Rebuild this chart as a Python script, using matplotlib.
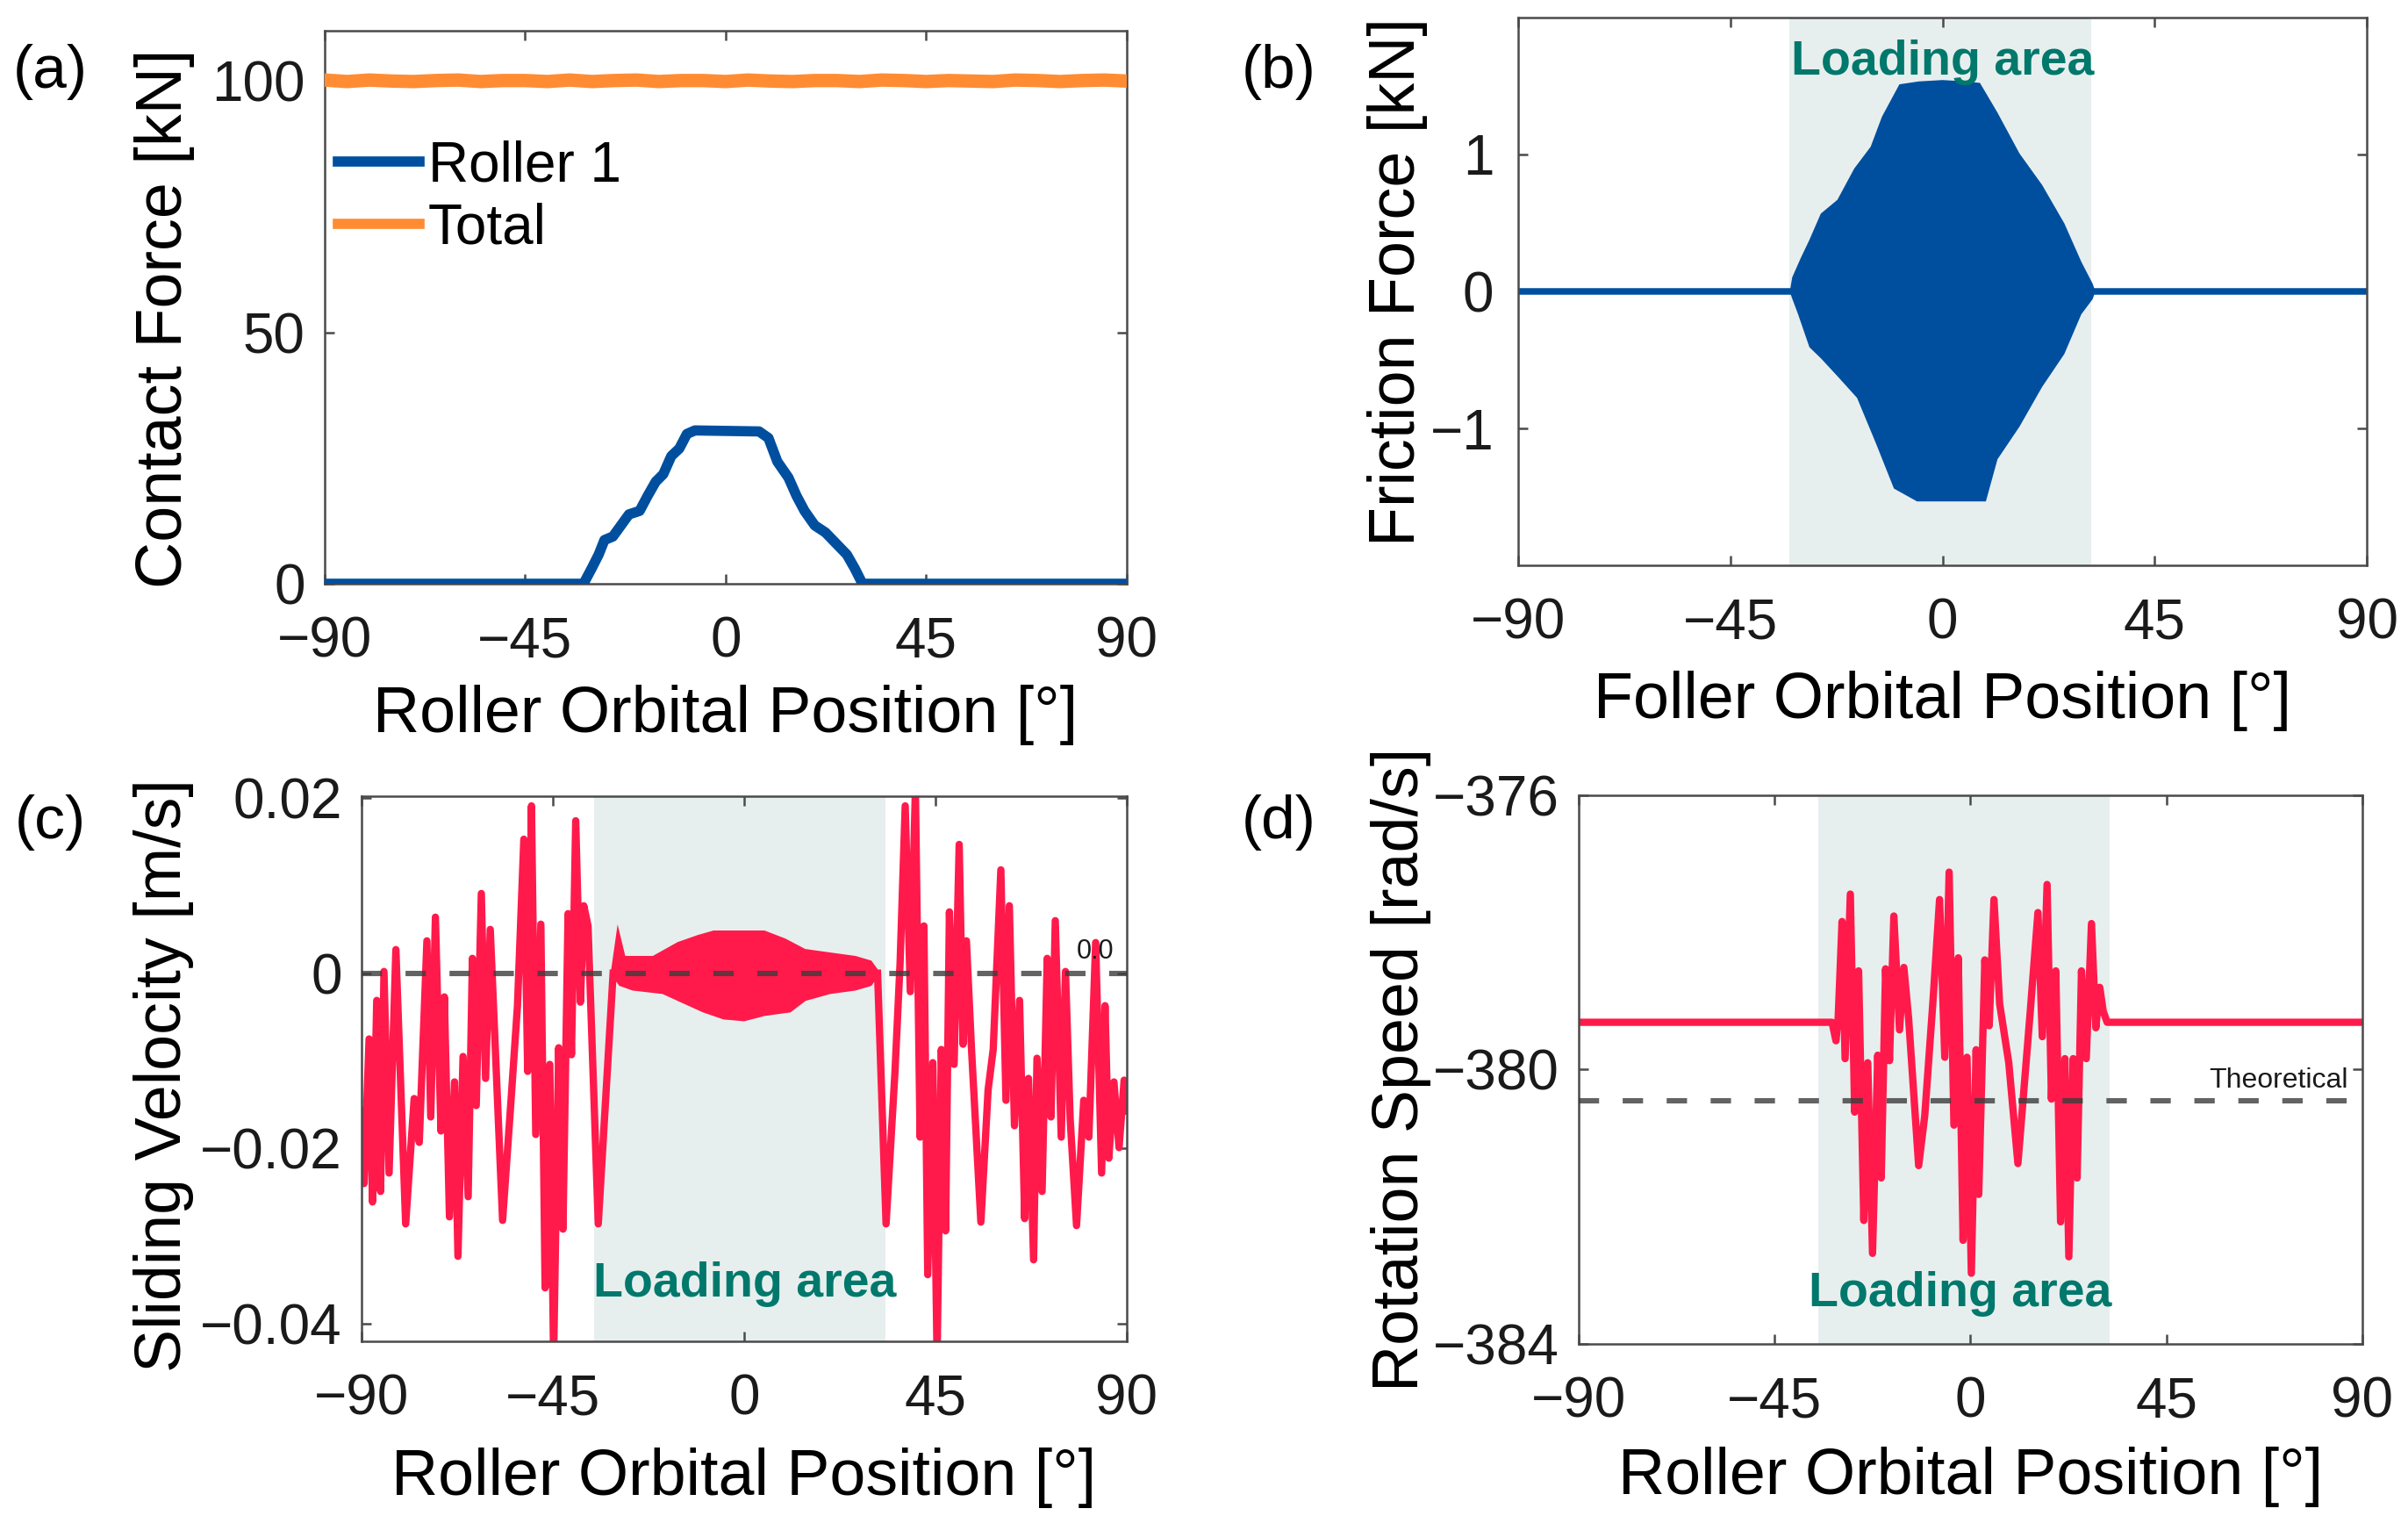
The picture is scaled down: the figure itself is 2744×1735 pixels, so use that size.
import numpy as np
import matplotlib
matplotlib.use("Agg")
import matplotlib.pyplot as plt

plt.rcParams['font.family'] = ['Liberation Sans', 'DejaVu Sans']

# ---- data ----
xticks = [-90, -45, 0, 45, 90]

# (a) contact force
total_x = np.arange(-90, 91, 5)
total_y = [100.2, 99.9, 100.2, 100.0, 99.9, 100.1, 100.2, 99.9, 100.1, 100.1,
           99.9, 100.2, 99.9, 100.1, 100.2, 99.9, 100.1, 100.1, 99.9, 100.2,
           100.0, 99.9, 100.1, 100.1, 99.9, 100.2, 100.1, 99.9, 100.1, 100.0,
           99.9, 100.2, 100.1, 99.9, 100.1, 100.2, 100.0]
roller_x = [-90, -31.9, -30.1, -28.5, -27.2, -25.3, -23.5, -21.7, -19.3, -17.5,
            -15.7, -14.0, -12.2, -10.4, -8.7, -6.9, 0.35, 7.5, 9.6, 11.6,
            14.1, 15.9, 17.7, 20.0, 22.4, 24.8, 27.2, 29.0, 30.7, 90]
roller_y = [0, 0, 3.0, 5.8, 8.7, 9.4, 11.6, 13.8, 14.5, 17.5,
            20.3, 21.8, 25.4, 26.9, 29.8, 30.5, 30.4, 30.3, 29.0, 24.3,
            21.1, 17.5, 14.5, 11.6, 10.2, 8.0, 5.8, 3.0, 0, 0]

# (b) friction force envelope of the dense oscillation
fr_up_x = [-32, -31.5, -29.7, -27.9, -25.5, -22, -18.4, -14.9, -12.5, -8.9,
           -5, 0, 5, 7.7, 11.3, 16, 20.8, 25.5, 29.1, 31.5, 32]
fr_up_y = [0, 0.1, 0.24, 0.37, 0.56, 0.66, 0.89, 1.05, 1.27, 1.5,
           1.52, 1.53, 1.52, 1.51, 1.3, 1.0, 0.77, 0.49, 0.21, 0.05, 0]
fr_lo_x = [-32, -31.5, -30.3, -27.9, -25.5, -22, -17.8, -13.7, -10, -5.3,
           0, 5, 8.9, 11.3, 16, 20.8, 25.5, 29.1, 31.5, 32]
fr_lo_y = [0, -0.05, -0.16, -0.4, -0.48, -0.61, -0.77, -1.11, -1.43, -1.52,
           -1.52, -1.52, -1.52, -1.22, -0.98, -0.69, -0.45, -0.16, -0.05, 0]

# (c) sliding velocity
sv_left_x = [-90, -89.4, -88.2, -87.4, -86.4, -85.5, -84.7, -83.5, -81.9, -79.6,
             -77.6, -76.4, -74.6, -73.7, -72.6, -71.3, -70.5, -69.3, -68.1, -67.3,
             -66.1, -64.9, -63.9, -63.0, -61.8, -60.8, -59.7, -56.8, -54.7, -53.3,
             -51.8, -50.9, -50.0, -49.0, -47.8, -46.8, -45.7, -44.8, -43.6, -42.6,
             -41.4, -40.6, -39.6, -38.5, -37.7, -36.7, -34.3, -30.8]
sv_left_y = [-0.0157, -0.0240, -0.0075, -0.0261, -0.0031, -0.0249, 0.0002, -0.0228, 0.0027, -0.0286,
             -0.0143, -0.0193, 0.0037, -0.0164, 0.0064, -0.0180, -0.0027, -0.0278, -0.0124, -0.0323,
             -0.0095, -0.0255, 0.0017, -0.0151, 0.0091, -0.0120, 0.0050, -0.0282, -0.0137, -0.0037,
             0.0153, -0.0112, 0.0191, -0.0184, 0.0056, -0.0359, -0.0104, -0.0440, -0.0085, -0.0292,
             0.0068, -0.0093, 0.0174, -0.0033, 0.0077, 0.0054, -0.0286, 0.0]
sv_right_x = [31.4, 33.4, 35.5, 36.7, 37.9, 39.1, 40.3, 41.4, 42.3, 43.2,
              44.4, 45.4, 46.4, 47.4, 48.3, 49.4, 50.6, 51.5, 52.3, 53.5,
              55.7, 57.4, 58.6, 60.4, 61.6, 62.4, 63.6, 64.8, 66.0, 66.9,
              68.1, 68.9, 70.1, 71.3, 72.2, 73.2, 74.6, 75.6, 76.7, 78.2,
              79.9, 81.1, 82.7, 84.1, 84.9, 85.8, 87.0, 88.2, 89.4, 90.0]
sv_right_y = [0.0, -0.0286, -0.0112, 0.0012, 0.0191, -0.0021, 0.0210, -0.0187, 0.0054, -0.0344,
              -0.0102, -0.0440, -0.0087, -0.0294, 0.0070, -0.0104, 0.0147, -0.0081, 0.0037, -0.0087,
              -0.0284, -0.0133, -0.0087, 0.0118, -0.0145, 0.0077, -0.0174, -0.0031, -0.0280, -0.0120,
              -0.0327, -0.0097, -0.0249, 0.0017, -0.0164, 0.0060, -0.0187, 0.0002, -0.0166, -0.0288,
              -0.0145, -0.0187, 0.0035, -0.0228, -0.0037, -0.0211, -0.0124, -0.0199, -0.0122, -0.0157]
sv_up_x = [-30.8, -29.6, -28.4, -21.3, -15.4, -10.7, -7.1, 0, 4.7, 9.5, 14.2, 20.1, 26.1, 29.6, 31.4]
sv_up_y = [0, 0.0041, 0.0017, 0.0017, 0.0033, 0.0041, 0.0046, 0.0046, 0.0046, 0.0037, 0.0025, 0.0021, 0.0017, 0.0012, 0]
sv_lo_x = [-30.8, -29.0, -26.1, -19.0, -15.4, -9.5, -4.7, 0, 4.7, 10.7, 14.2, 20.1, 26.1, 29.6, 31.4]
sv_lo_y = [0, -0.0012, -0.0017, -0.0021, -0.0029, -0.0042, -0.0050, -0.0052, -0.0046, -0.0042, -0.0029, -0.0021, -0.0017, -0.0012, 0]

# (d) rotation speed
rs_x = [-90, -31.8, -30.9, -30.4, -29.5, -28.8, -27.6, -26.6, -25.7, -24.5,
        -23.6, -22.5, -21.3, -20.5, -19.5, -18.6, -17.6, -16.3, -15.3, -14.2,
        -11.9, -10.5, -8.6, -7.1, -5.9, -4.9, -3.8, -2.8, -1.7, -0.8,
        0.2, 1.3, 1.9, 3.3, 4.3, 5.4, 6.7, 8.8, 10.9, 12.1,
        13.8, 15.5, 16.5, 17.6, 18.6, 19.6, 20.7, 21.7, 22.6, 23.6,
        24.5, 25.5, 26.6, 27.8, 28.8, 29.7, 30.5, 31.4, 90]
rs_y = [-379.31, -379.31, -379.58, -379.26, -377.84, -379.84, -377.44, -380.62, -378.56, -382.20,
        -379.90, -382.68, -379.79, -381.58, -378.53, -379.87, -377.76, -379.42, -378.51, -379.26,
        -381.40, -380.67, -378.99, -377.52, -379.82, -377.12, -380.81, -378.37, -382.49, -379.82,
        -382.97, -379.71, -381.82, -378.40, -379.36, -377.52, -379.04, -379.90, -381.37, -380.43,
        -379.10, -377.71, -379.52, -377.30, -380.43, -378.56, -382.22, -379.84, -382.73, -379.84,
        -381.58, -378.56, -379.84, -377.87, -379.39, -378.80, -379.15, -379.31, -379.31]
theoretical = -380.45

# ---- style ----
blue = '#004F9F'
orange = '#FF8C33'
red = '#FF1A4B'
shade = '#E7EFEE'
teal = '#00786C'
dash_c = '#3c3c3c'

fig = plt.figure(figsize=(13.72, 8.675), dpi=200)
ax_a = fig.add_axes([0.1348, 0.6167, 0.3331, 0.3631])
ax_b = fig.add_axes([0.6305, 0.6288, 0.3524, 0.3597])
ax_c = fig.add_axes([0.1501, 0.1193, 0.3178, 0.3579])
ax_d = fig.add_axes([0.6556, 0.1176, 0.3254, 0.3602])


def style(ax, ypad=8):
    for s in ax.spines.values():
        s.set_color('#4a4a4a')
        s.set_linewidth(0.9)
    ax.tick_params(direction='in', length=4, width=0.9, top=True, right=True,
                   labelsize=23, color='#4a4a4a', labelcolor='#1a1a1a')
    ax.tick_params(axis='x', pad=13)
    ax.tick_params(axis='y', pad=ypad)
    ax.set_xlim(-90, 90)
    ax.set_xticks(xticks)
    ax.set_xticklabels(['\u221290', '\u221245', '0', '45', '90'])


def labels(ax, xl, yl, xy, yx, yy):
    ax.set_xlabel(xl, fontsize=26.5, va='center')
    ax.xaxis.set_label_coords(0.5, xy)
    ax.set_ylabel(yl, fontsize=26.5, va='center')
    ax.yaxis.set_label_coords(yx, yy)


# (a)
style(ax_a)
ax_a.plot(roller_x, roller_y, color=blue, lw=4.2, label='Roller 1', zorder=3)
ax_a.plot(total_x, total_y, color=orange, lw=5.5, label='Total', zorder=3)
ax_a.set_ylim(0, 110)
ax_a.set_yticks([0, 50, 100])
labels(ax_a, 'Roller Orbital Position [\u00b0]', 'Contact Force [kN]', -0.238, -0.2, 0.48)
leg = ax_a.legend(loc='upper left', bbox_to_anchor=(0.017, 0.803), frameon=False, fontsize=23,
                  handlelength=1.45, handletextpad=0.15, labelspacing=0.18, borderpad=0,
                  borderaxespad=0)
for h in leg.get_lines():
    h.set_linewidth(4.2)

# (b)
style(ax_b, ypad=10)
ax_b.axvspan(-32.5, 31.5, color=shade, lw=0, zorder=0)
ax_b.plot([-90, 90], [0, 0], color=blue, lw=2.7, zorder=2)
ax_b.fill(np.r_[fr_up_x, fr_lo_x[::-1]], np.r_[fr_up_y, fr_lo_y[::-1]], color=blue, lw=1.5,
          ec=blue, zorder=2)
ax_b.set_ylim(-2, 2)
ax_b.set_yticks([-1, 0, 1])
ax_b.set_yticklabels(['\u22121', '0', '1'])
ax_b.text(0, 1.58, 'Loading area', color=teal, fontsize=20, fontweight='bold',
          ha='center', va='baseline', zorder=4)
labels(ax_b, 'Foller Orbital Position [\u00b0]', 'Friction Force [kN]', -0.247, -0.142, 0.518)

# (c)
style(ax_c)
ax_c.axvspan(-35.3, 33.2, color=shade, lw=0, zorder=0)
ax_c.plot(sv_left_x, sv_left_y, color=red, lw=3.0, zorder=2, solid_joinstyle='round')
ax_c.plot(sv_right_x, sv_right_y, color=red, lw=3.0, zorder=2, solid_joinstyle='round')
ax_c.fill(np.r_[sv_up_x, sv_lo_x[::-1]], np.r_[sv_up_y, sv_lo_y[::-1]], color=red, lw=2.0,
          ec=red, zorder=2)
ax_c.plot([-90, 90], [0, 0], color=dash_c, lw=2.2, alpha=0.8, dashes=(3.8, 4.4), zorder=3)
ax_c.text(87.1, 0.00163, '0.0', fontsize=11, ha='right', va='baseline', color='#1a1a1a', zorder=4)
ax_c.text(0.2, -0.0369, 'Loading area', color=teal, fontsize=20, fontweight='bold',
          ha='center', va='baseline', zorder=4)
ax_c.set_ylim(-0.042, 0.0202)
ax_c.set_yticks([-0.04, -0.02, 0, 0.02])
ax_c.set_yticklabels(['\u22120.04', '\u22120.02', '0', '0.02'])
labels(ax_c, 'Roller Orbital Position [\u00b0]', 'Sliding Velocity [m/s]', -0.25, -0.258, 0.488)

# (d)
style(ax_d)
ax_d.axvspan(-35.0, 32.0, color=shade, lw=0, zorder=0)
ax_d.plot(rs_x, rs_y, color=red, lw=3.0, zorder=2, solid_joinstyle='round')
ax_d.plot([-90, 90], [theoretical, theoretical], color=dash_c, lw=2.2, alpha=0.8,
          dashes=(3.8, 4.4), zorder=3)
ax_d.text(86.8, -380.26, 'Theoretical', fontsize=11.5, ha='right', va='baseline',
          color='#1a1a1a', zorder=4)
ax_d.text(-2.3, -383.45, 'Loading area', color=teal, fontsize=20, fontweight='bold',
          ha='center', va='baseline', zorder=4)
ax_d.set_ylim(-384, -376)
ax_d.set_yticks([-384, -380, -376])
ax_d.set_yticklabels(['\u2212384', '\u2212380', '\u2212376'])
labels(ax_d, 'Roller Orbital Position [\u00b0]', 'Rotation Speed [rad/s]', -0.243, -0.227, 0.5)

# panel letters
for lab, x, y in [('(a)', 57, 82), ('(b)', 1457, 82), ('(c)', 57, 937), ('(d)', 1457, 937)]:
    fig.text(x / 2744, 1 - y / 1735, lab, fontsize=25, ha='center', va='center')

fig.savefig('out.png', dpi=200)
